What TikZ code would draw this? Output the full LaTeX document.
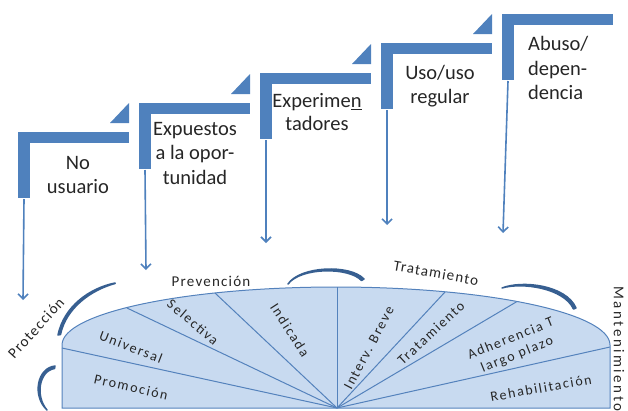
\documentclass[tikz,border=0pt]{standalone}
\usepackage{fontspec}
\setmainfont{Carlito}
\newfontfamily\fanfont[LetterSpace=12]{Carlito}
\newfontfamily\outfont[LetterSpace=8]{Carlito}
\newfontfamily\mantfont[LetterSpace=17]{Carlito}
\usetikzlibrary{arrows.meta}
\definecolor{stepblue}{RGB}{79,129,189}
\definecolor{fanfill}{RGB}{200,218,240}
\definecolor{fanline}{RGB}{84,130,188}
\definecolor{curveblue}{RGB}{55,95,145}
\definecolor{txt}{RGB}{38,38,38}
\tikzset{
  stepshape/.pic={
    \fill[stepblue] (0,0) rectangle (111,11);
    \fill[stepblue] (0,0) rectangle (12,66);
    \coordinate (-foot) at (6,67);
  },
  steptri/.pic={
    \fill[stepblue] (111,-29) -- (111,-9) -- (92,-9) -- cycle;
  },
  steptext/.style={font=\fontsize{20.5}{24.5}\selectfont, text=txt, align=center, inner sep=0pt},
  droparrow/.style={draw=stepblue, line width=1.6pt, -{Straight Barb[length=5pt,width=10pt,line width=1.6pt]}},
  fanlbl/.style={font=\fanfont\fontsize{14}{17}\selectfont, text=txt, inner sep=0pt, align=center},
  outlbl/.style={font=\outfont\fontsize{15}{18}\selectfont, text=txt, inner sep=0pt},
  fanedge/.style={draw=fanline, line width=1pt},
  cycarrow/.style={fill=curveblue, draw=curveblue, line width=1.5pt, line cap=round, line join=round}
}
\begin{document}
\begin{tikzpicture}[x=1pt,y=-1pt]
\useasboundingbox (0,0) rectangle (628,410);
% steps
\pic (s1) at (18,132) {stepshape};
\pic at (18,132) {steptri};
\pic (s2) at (139,103) {stepshape};
\pic at (139,103) {steptri};
\pic (s3) at (260,73) {stepshape};
\pic at (260,73) {steptri};
\pic (s4) at (381,43) {stepshape};
\pic at (381,43) {steptri};
\pic (s5) at (502,14) {stepshape};
% step texts
\node[steptext] (t1) at (78,175) {No\\usuario};
\node[steptext] (t2) at (195,153) {Expuestos\\a la opor-\\tunidad};
\node[steptext, font=\fontsize{20.5}{22.5}\selectfont] (t3) at (317,112) {Experime\underline{n}\\tadores};
\node[steptext] (t4) at (440,86) {Uso/uso\\regular};
\node[steptext, align=left, anchor=west] (t5) at (528,68) {Abuso/\\depen-\\dencia};
% arrow ends
\coordinate (e1) at (23,300);
\coordinate (e2) at (146,270);
\coordinate (e3) at (266,243);
\coordinate (e4) at (387,225);
\coordinate (e5) at (503,233);
\draw[droparrow] (s1-foot) -- (e1);
\draw[droparrow] (s2-foot) -- (e2);
\draw[droparrow] (s3-foot) -- (e3);
\draw[droparrow] (s4-foot) -- (e4);
\draw[droparrow] (s5-foot) -- (e5);
% fan
\path[fill=fanfill, fanedge] (62,408) -- (62,345) arc[start angle=180, end angle=360, x radius=274, y radius=58] -- (610,408) -- cycle;
\coordinate (C) at (337,408);
\coordinate (p0) at (62,348);
\coordinate (p1) at (127,308);
\coordinate (p2) at (215,293);
\coordinate (p3) at (337,287);
\coordinate (p4) at (445,292);
\coordinate (p5) at (517,301.5);
\coordinate (p6) at (610,347);
\foreach \p in {p0,p1,p2,p3,p4,p5,p6} \draw[fanedge] (C) -- (\p);
% fan labels
\node[fanlbl, rotate=-13] (promo) at (131,387) {Promoción};
\node[fanlbl, rotate=-21] (univ) at (131,347) {Universal};
\node[fanlbl, rotate=-40] (selec) at (193,322) {Selectiva};
\node[fanlbl, rotate=-57] (indic) at (290,330) {Indicada};
\node[fanlbl, rotate=62] (breve) at (369,348) {Interv. Breve};
\node[fanlbl, rotate=43] (trat) at (431,333) {Tratamiento};
\node[fanlbl, rotate=22] (adher) at (514,347) {Adherencia T\\largo plazo};
\node[fanlbl, rotate=10] (rehab) at (541,388) {Rehabilitación};
% outer labels
\node[outlbl] (prev) at (211,281) {Prevención};
\node[outlbl, rotate=-10] (tratout) at (436,273) {Tratamiento};
\node[outlbl, rotate=48] (prot) at (36,328) {Protección};
\node[outlbl, font=\mantfont\fontsize{15}{18}\selectfont, rotate=-90, anchor=west] (mant) at (619,286) {Mantenimiento};
% cycle arrows (tapered)
\path[cycarrow] (115,283) .. controls (90,288) and (64,306) .. (58,335)
  -- (60.5,334.5) .. controls (66,308) and (91,290) .. (115,283.5) -- cycle;
\path[cycarrow] (55,366) -- (54.5,368.5) .. controls (39,371) and (35,396) .. (47,410)
  .. controls (32,396) and (37,368) .. (55,366) -- cycle;
\path[cycarrow] (288,284) .. controls (300,266) and (350,264) .. (364,279)
  -- (361.5,280.5) .. controls (349,267) and (301,267) .. (288,284) -- cycle;
\path[cycarrow] (502,288) .. controls (522,280) and (566,285) .. (576,308)
  -- (573.5,309) .. controls (564,288) and (522,282) .. (502,288) -- cycle;
\end{tikzpicture}
\end{document}
